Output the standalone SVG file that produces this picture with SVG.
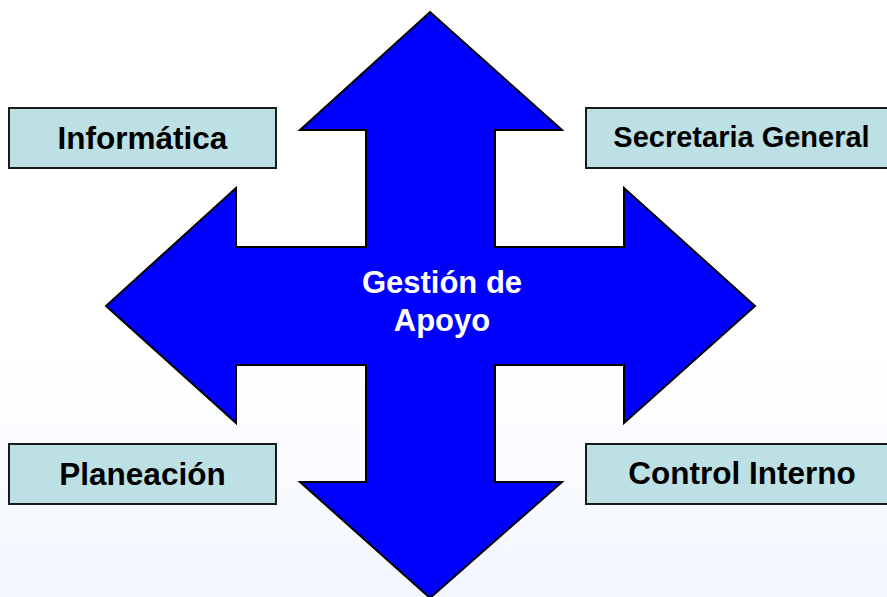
<svg xmlns="http://www.w3.org/2000/svg" width="887" height="597" viewBox="0 0 887 597">
<defs>
<linearGradient id="bg" x1="0" y1="0" x2="0" y2="1">
<stop offset="0" stop-color="#ffffff"/>
<stop offset="0.6" stop-color="#ffffff"/>
<stop offset="1" stop-color="#f2f6fe"/>
</linearGradient>
<style>
.box{fill:#bde0e4;stroke:#1a1a1a;stroke-width:2}
.lbl{font-family:"Liberation Sans",Arial,sans-serif;font-weight:bold;fill:#000;text-anchor:middle}
.arrow{fill:#0000ff;stroke:#000;stroke-width:2;stroke-linejoin:miter}
.ctr{font-family:"Liberation Sans",Arial,sans-serif;font-weight:bold;fill:#fff;text-anchor:middle;font-size:31px}
</style>
</defs>
<rect x="0" y="0" width="887" height="597" fill="url(#bg)"/>
<g id="connectors">
<path class="arrow" d="M430,12 L562,130 L495,130 L495,247 L624,247 L624,188 L755,306 L624,423 L624,365 L495,365 L495,482 L562,482 L430,598 L300,482 L366,482 L366,365 L236,365 L236,423 L106,306 L236,188 L236,247 L366,247 L366,130 L300,130 Z"/>
</g>
<g id="center">
<text class="ctr" x="442" y="293">Gestión de</text>
<text class="ctr" x="442" y="331">Apoyo</text>
</g>
<g id="informatica">
<rect class="box" x="9" y="108" width="267" height="60"/>
<text class="lbl" x="142.5" y="149" font-size="31.5">Informática</text>
</g>
<g id="secretaria">
<rect class="box" x="586" y="108" width="310" height="60"/>
<text class="lbl" x="741.5" y="147" font-size="29">Secretaria General</text>
</g>
<g id="planeacion">
<rect class="box" x="9" y="444" width="267" height="60"/>
<text class="lbl" x="142.5" y="485" font-size="31.5">Planeación</text>
</g>
<g id="control">
<rect class="box" x="586" y="444" width="310" height="60"/>
<text class="lbl" x="742" y="484" font-size="31.5">Control Interno</text>
</g>
</svg>
